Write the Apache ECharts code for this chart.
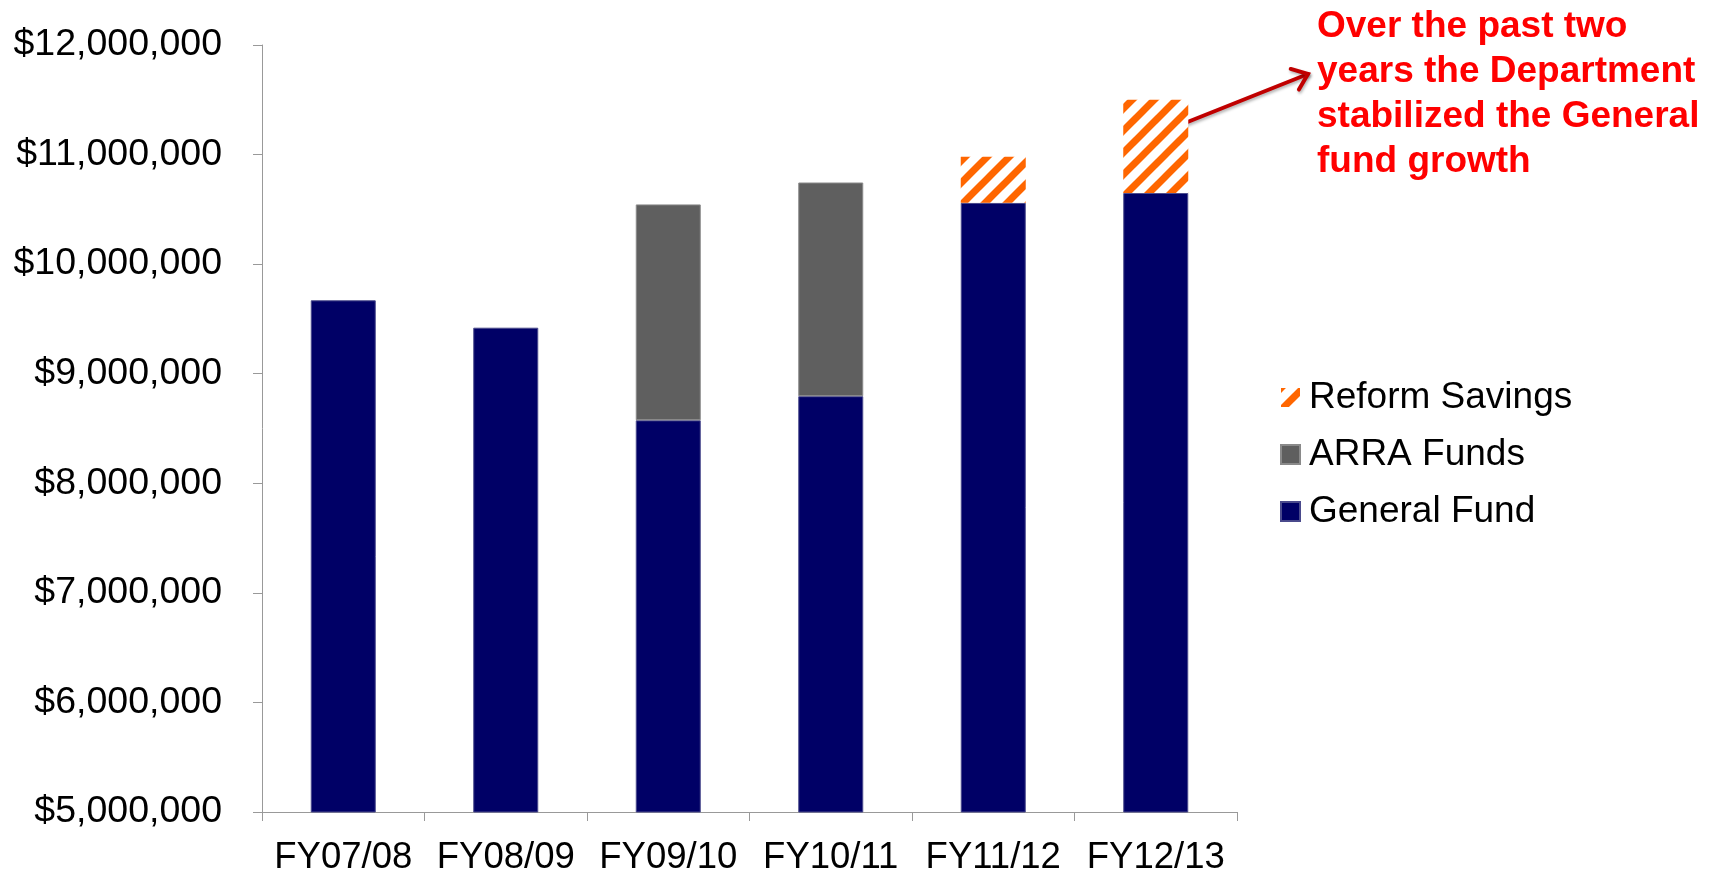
<!DOCTYPE html>
<html>
<head>
<meta charset="utf-8">
<title>Department Funding FY07/08 - FY12/13</title>
<script src="https://cdn.jsdelivr.net/npm/echarts@6/dist/echarts.min.js"></script>
<style>
  html, body { margin: 0; padding: 0; background: #ffffff; }
  #chart { width: 1719px; height: 872px; }
</style>
</head>
<body>
<div id="chart"></div>
<script>
// Fiscal years on the category axis
const categories = ['FY07/08', 'FY08/09', 'FY09/10', 'FY10/11', 'FY11/12', 'FY12/13'];

// Stacked funding components (dollars)
const generalFund    = [9670000, 9420000, 8575000, 8795000, 10560000, 10650000];
const arraFunds      = [null, null, 1970000, 1950000, null, null];
const reformSavings  = [null, null, null, null, 420000, 850000];

// Value-axis range and step
const yMin = 5000000;
const yMax = 12000000;
const yStep = 1000000;

const legendOrder = ['Reform Savings', 'ARRA Funds', 'General Fund'];

const noteLines = [
  'Over the past two',
  'years the Department',
  'stabilized the General',
  'fund growth'
];

const FONT = "'Liberation Sans', Arial, Helvetica, sans-serif";

// Orange diagonal hatch used for the savings segment
function hatchPattern() {
  const size = 22;
  const c = document.createElement('canvas');
  c.width = size; c.height = size;
  const g = c.getContext('2d');
  g.fillStyle = '#ffffff';
  g.fillRect(0, 0, size, size);
  g.strokeStyle = '#FF6600';
  g.lineWidth = 7;
  g.lineCap = 'square';
  for (const o of [-size, 0, size]) {
    g.beginPath();
    g.moveTo(o, size);
    g.lineTo(o + size, 0);
    g.stroke();
  }
  return c;
}

const chart = echarts.init(document.getElementById('chart'), null, { renderer: 'canvas' });

// Arrow from the FY12/13 bar to the note text
const arrowStart = [1185, 123];
const arrowEnd = [1308, 74];
function arrowHead(tip, from, len, angleDeg) {
  const dx = from[0] - tip[0], dy = from[1] - tip[1];
  const d = Math.hypot(dx, dy);
  const ux = dx / d, uy = dy / d;
  const a = angleDeg * Math.PI / 180;
  const rot = (s) => [
    tip[0] + len * (ux * Math.cos(s * a) - uy * Math.sin(s * a)),
    tip[1] + len * (ux * Math.sin(s * a) + uy * Math.cos(s * a))
  ];
  return [rot(1), tip, rot(-1)];
}

const arrowStyle = {
  stroke: '#C00000',
  lineWidth: 4,
  lineCap: 'round',
  lineJoin: 'miter',
  shadowBlur: 3,
  shadowOffsetX: 1,
  shadowOffsetY: 2,
  shadowColor: 'rgba(0,0,0,0.3)'
};

const option = {
  backgroundColor: '#ffffff',
  animation: false,
  textStyle: { fontFamily: FONT },
  grid: { left: 262, right: 482, top: 45, bottom: 60, outerBoundsMode: 'none', containLabel: false },
  legend: {
    orient: 'vertical',
    left: 1275,
    top: 374,
    data: legendOrder,
    itemWidth: 19,
    itemHeight: 19,
    itemGap: 20,
    icon: 'rect',
    textStyle: { fontSize: 37, color: '#000000', fontFamily: FONT, lineHeight: 37, padding: [0, 0, 0, 4] }
  },
  xAxis: {
    type: 'category',
    data: categories,
    axisLine: { lineStyle: { color: '#999999', width: 1 } },
    axisTick: { show: true, length: 9, lineStyle: { color: '#999999' } },
    axisLabel: { fontSize: 36.5, color: '#000000', margin: 27, fontFamily: FONT, interval: 0 }
  },
  yAxis: {
    type: 'value',
    min: yMin,
    max: yMax,
    interval: yStep,
    splitLine: { show: false },
    axisLine: { show: true, lineStyle: { color: '#999999', width: 1 } },
    axisTick: { show: true, length: 9, lineStyle: { color: '#999999' } },
    axisLabel: {
      fontSize: 37.5,
      color: '#000000',
      margin: 40,
      fontFamily: FONT,
      formatter: (v) => '$' + v.toLocaleString('en-US')
    }
  },
  series: [
    {
      name: 'General Fund',
      type: 'bar',
      stack: 'total',
      barWidth: '40%',
      data: generalFund,
      itemStyle: { color: '#000066', borderColor: '#4a4a8c', borderWidth: 1 }
    },
    {
      name: 'ARRA Funds',
      type: 'bar',
      stack: 'total',
      barWidth: '40%',
      data: arraFunds,
      itemStyle: { color: '#5F5F5F', borderColor: '#8a8a8a', borderWidth: 1 }
    },
    {
      name: 'Reform Savings',
      type: 'bar',
      stack: 'total',
      barWidth: '40%',
      data: reformSavings,
      itemStyle: { color: { image: hatchPattern(), repeat: 'repeat' } }
    }
  ],
  graphic: [
    {
      type: 'text',
      left: 1317,
      top: 4,
      style: {
        text: noteLines.join('\n'),
        fill: '#FF0000',
        font: "bold 37px " + FONT,
        lineHeight: 45
      }
    },
    {
      type: 'polyline',
      shape: { points: [arrowStart, arrowEnd] },
      style: arrowStyle
    },
    {
      type: 'polyline',
      shape: { points: arrowHead(arrowEnd, arrowStart, 18, 38) },
      style: Object.assign({}, arrowStyle, { fill: null })
    }
  ]
};

chart.setOption(option);
</script>
</body>
</html>
